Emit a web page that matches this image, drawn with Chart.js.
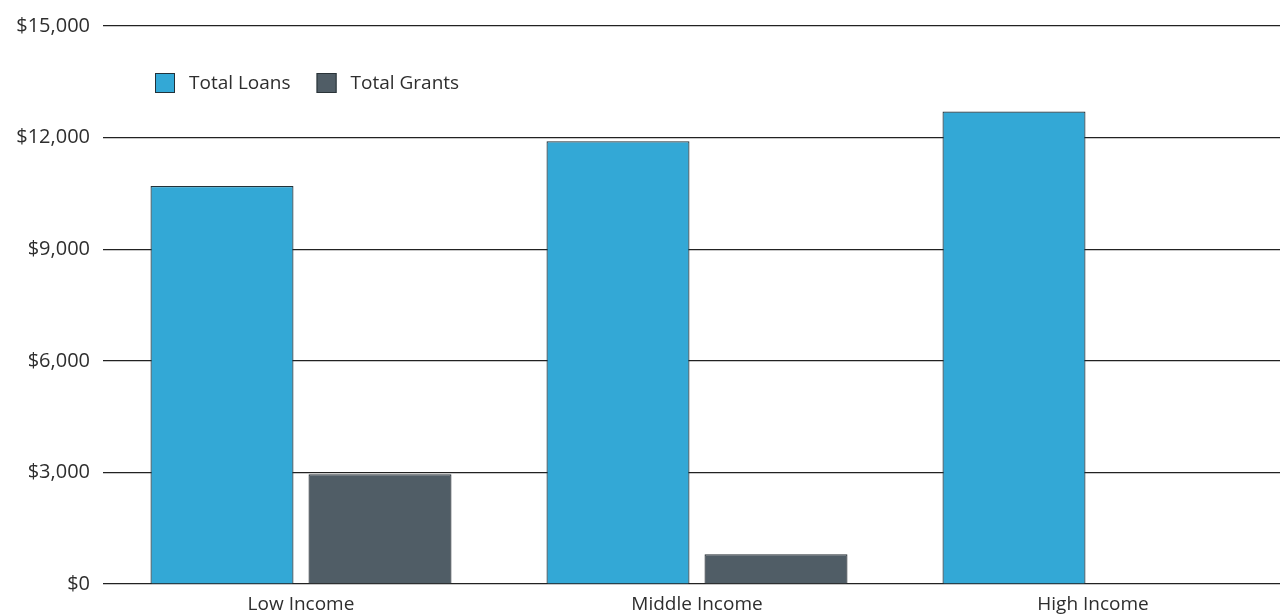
<!DOCTYPE html>
<html>
<head>
<meta charset="utf-8">
<title>Total Loans and Grants by Income</title>
<script src="https://cdn.jsdelivr.net/npm/chart.js@4.4.1/dist/chart.umd.min.js"></script>
<style>
  html, body { margin: 0; padding: 0; background: #fff; overflow: hidden; }
  #wrap { position: relative; width: 1291px; height: 615px; }
</style>
</head>
<body>
<div id="wrap"><canvas id="chart"></canvas></div>
<script>
const categories = ['Low Income', 'Middle Income', 'High Income'];
const totalLoans = [10700, 11900, 12700];
const totalGrants = [2950, 800, 0];
const yTicks = [0, 3000, 6000, 9000, 12000, 15000];

const FONT = '"Open Sans", "Noto Sans", sans-serif';
const TEXT = '#2E2E2E';

function fmtDollar(value) {
  return '$' + Number(value).toLocaleString('en-US');
}

// legend drawn inside the plot area, top left
const insideLegend = {
  id: 'insideLegend',
  afterDraw(chart) {
    const { ctx, chartArea } = chart;
    let x = chartArea.left + 52;
    const y = chartArea.top + 47;
    const box = 20;
    ctx.save();
    ctx.font = `19px ${FONT}`;
    ctx.textBaseline = 'middle';
    ctx.textAlign = 'left';
    chart.data.datasets.forEach((ds) => {
      ctx.fillStyle = ds.backgroundColor;
      ctx.fillRect(x, y, box, box);
      ctx.strokeStyle = ds.borderColor;
      ctx.lineWidth = 1;
      ctx.strokeRect(x + 0.5, y + 0.5, box - 1, box - 1);
      ctx.fillStyle = TEXT;
      ctx.fillText(ds.label, x + box + 14, y + box / 2 + 1);
      x += box + 14 + ctx.measureText(ds.label).width + 26;
    });
    ctx.restore();
  },
};

new Chart(document.querySelector('#chart'), {
  type: 'bar',
  data: {
    labels: categories,
    datasets: [
      {
        label: 'Total Loans',
        data: totalLoans,
        backgroundColor: '#33A8D6',
        borderColor: '#22323A',
        borderWidth: 1.2,
        borderSkipped: 'start',
        categoryPercentage: 0.798,
        barPercentage: 0.905,
      },
      {
        label: 'Total Grants',
        data: totalGrants,
        backgroundColor: '#505D66',
        borderColor: '#2A3338',
        borderWidth: 1.2,
        borderSkipped: 'start',
        categoryPercentage: 0.798,
        barPercentage: 0.905,
      },
    ],
  },
  options: {
    responsive: true,
    maintainAspectRatio: false,
    animation: false,
    layout: { padding: { top: 26, left: 0, right: 0, bottom: 0 } },
    plugins: {
      legend: { display: false },
      tooltip: { enabled: false },
    },
    scales: {
      x: {
        afterFit: (scale) => { scale.height = 31; },
        grid: { display: false, drawTicks: false },
        border: { display: false },
        ticks: {
          color: TEXT,
          font: { family: FONT, size: 19 },
          padding: 9,
        },
      },
      y: {
        min: 0,
        max: 15000,
        afterFit: (scale) => { scale.width = 103; },
        afterBuildTicks: (scale) => {
          scale.ticks = yTicks.map((value) => ({ value }));
        },
        grid: { color: '#222222', lineWidth: 1.2, drawTicks: false },
        border: { display: false },
        ticks: {
          color: TEXT,
          font: { family: FONT, size: 20 },
          padding: 13,
          callback: (value) => fmtDollar(value),
        },
      },
    },
  },
  plugins: [insideLegend],
});
</script>
</body>
</html>
